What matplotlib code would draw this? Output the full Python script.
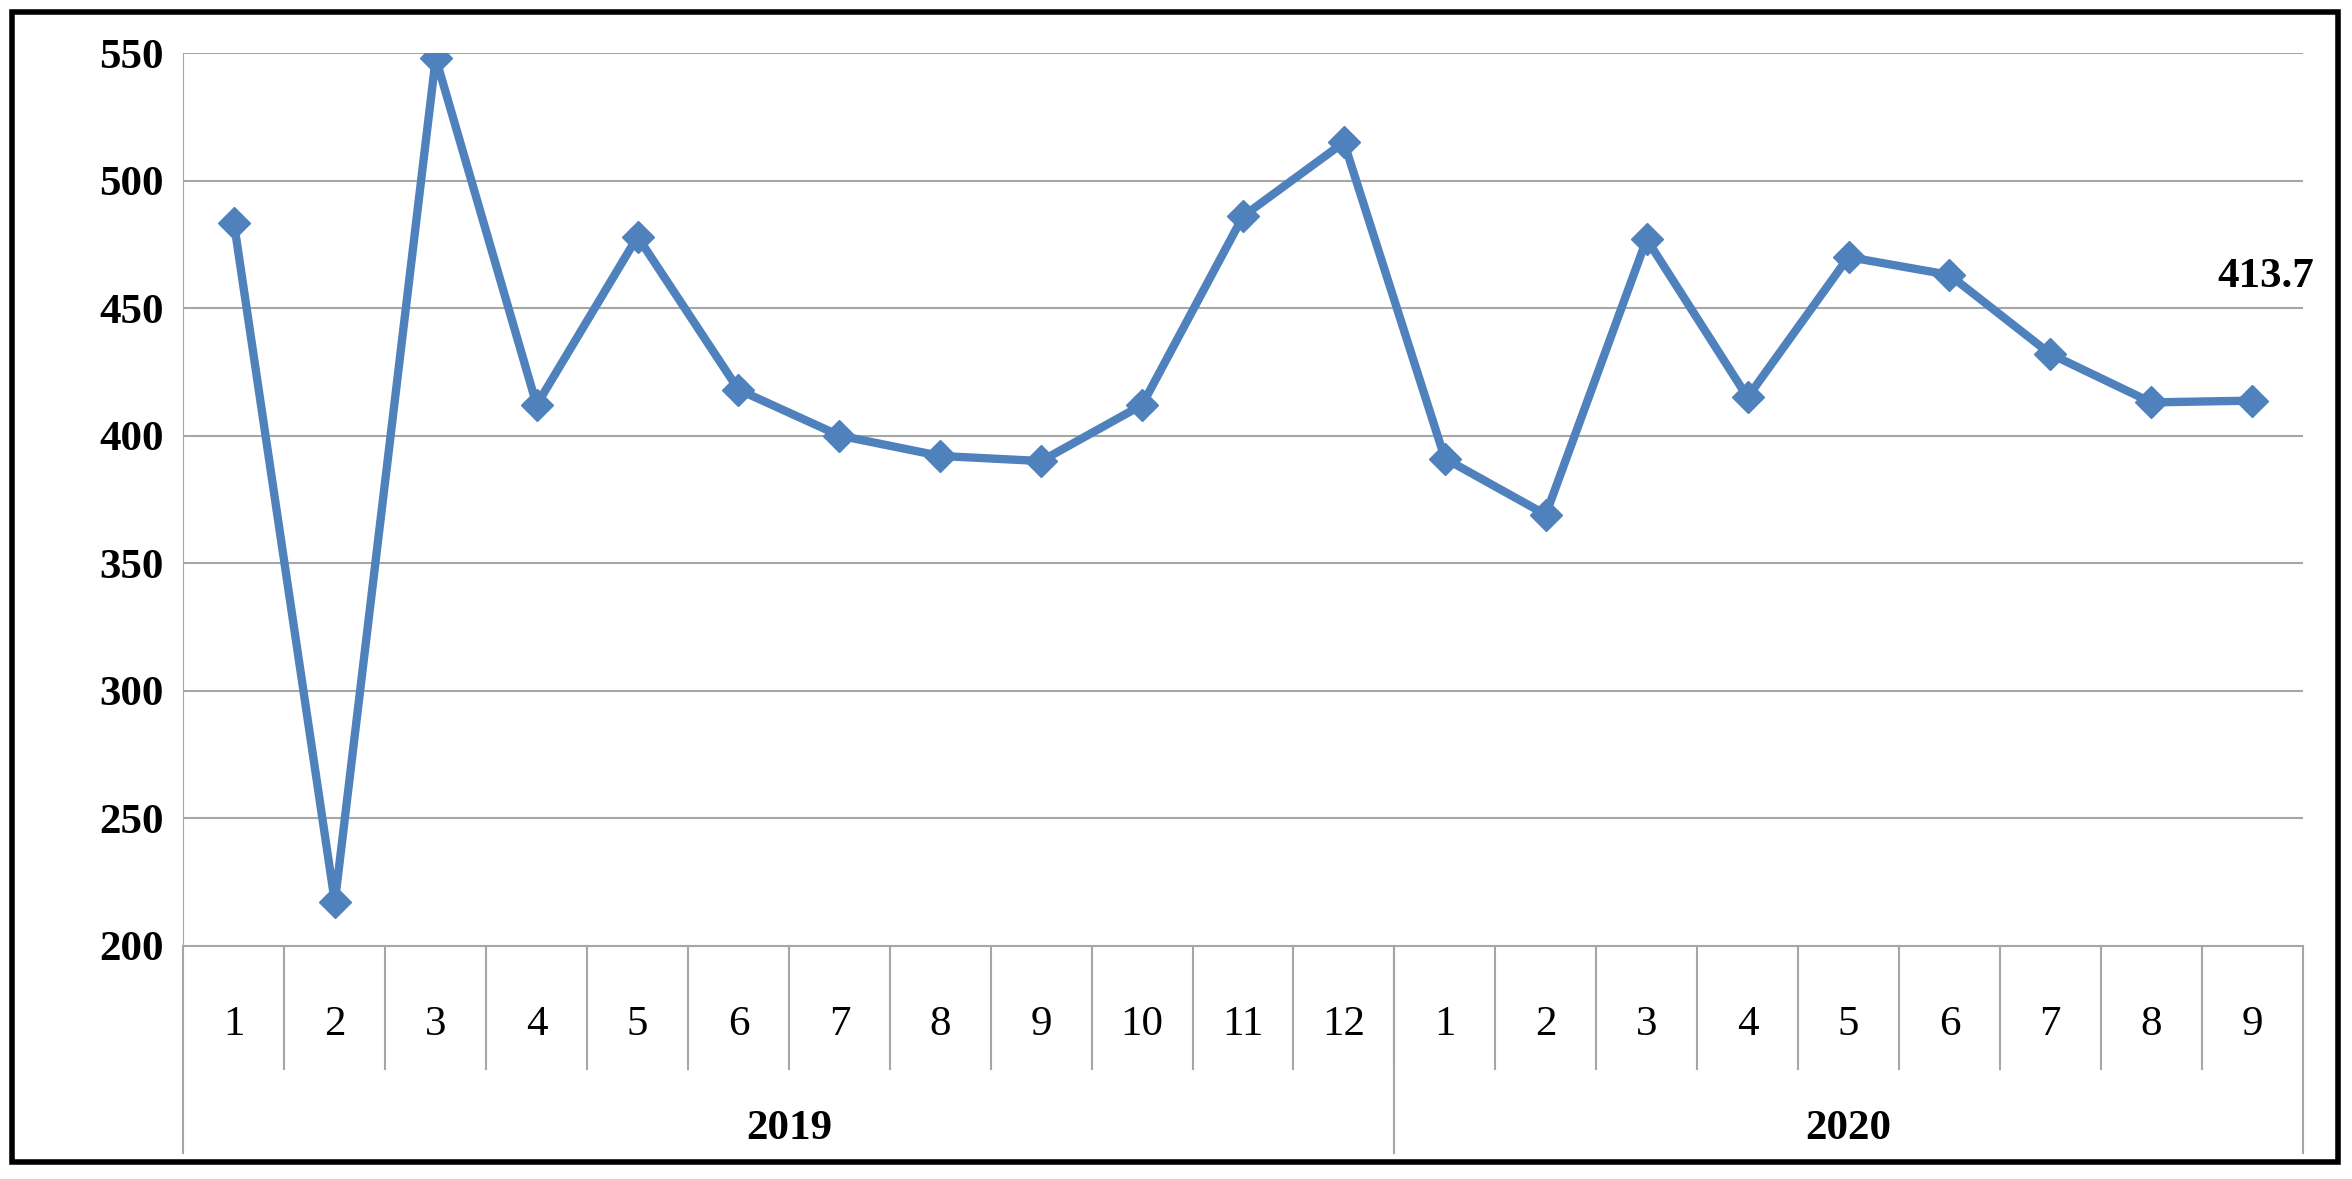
import matplotlib
matplotlib.use("Agg")
from matplotlib import pyplot as plt
from matplotlib.patches import Rectangle

months = ["1", "2", "3", "4", "5", "6", "7", "8", "9", "10", "11", "12",
          "1", "2", "3", "4", "5", "6", "7", "8", "9"]
years = ["2019", "2020"]
year_lengths = [12, 9]
values = [483.5, 217, 548, 412, 478, 418, 400, 392, 390, 412, 486, 515,
          391, 369, 477, 415, 470, 463, 432, 413, 413.7]
y_ticks = [200, 250, 300, 350, 400, 450, 500, 550]

plt.rcParams["font.family"] = ["Liberation Serif", "DejaVu Serif"]
fig = plt.figure(figsize=(23.52, 11.79), dpi=100)
ax = fig.add_axes([0.078, 0.198, 0.901, 0.757])

x = list(range(len(values)))
ax.plot(x, values, color="#4F81BD", linewidth=6, marker="D", markersize=16,
        markerfacecolor="#4F81BD", markeredgecolor="#4F81BD", zorder=3)
ax.annotate(f"{values[-1]:.1f}", (x[-1], values[-1]), xytext=(10, 75),
            textcoords="offset points", ha="center", va="bottom",
            fontsize=31, fontweight="bold")

ax.set_xlim(-0.5, len(values) - 0.5)
ax.set_ylim(200, 550)
ax.set_yticks(y_ticks)
ax.set_yticklabels([str(t) for t in y_ticks], fontsize=31, fontweight="bold")
ax.yaxis.grid(True, color="#A6A6A6", linewidth=1.5)
ax.set_xticks([])
ax.tick_params(axis="y", length=0, pad=14)
for side in ["top", "right"]:
    ax.spines[side].set_visible(False)
ax.spines["left"].set_color("#A6A6A6")
ax.spines["bottom"].set_color("#A6A6A6")

tr = ax.get_xaxis_transform()
line_kw = dict(color="#A6A6A6", linewidth=1.5, clip_on=False, transform=tr)
for i, label in enumerate(months):
    ax.text(i, -0.089, label, transform=tr, ha="center", va="center", fontsize=31)
for b in range(1, len(values)):
    ax.plot([b - 0.5, b - 0.5], [0, -0.138], **line_kw)
start = -0.5
for year, n in zip(years, year_lengths):
    ax.plot([start, start], [0, -0.232], **line_kw)
    ax.text(start + n / 2, -0.205, year, transform=tr, ha="center", va="center",
            fontsize=31, fontweight="bold")
    start += n
ax.plot([start, start], [0, -0.232], **line_kw)

fig.patches.append(Rectangle((0.005, 0.014), 0.989, 0.976, transform=fig.transFigure,
                             fill=False, edgecolor="black", linewidth=4))
fig.savefig("out.png")
